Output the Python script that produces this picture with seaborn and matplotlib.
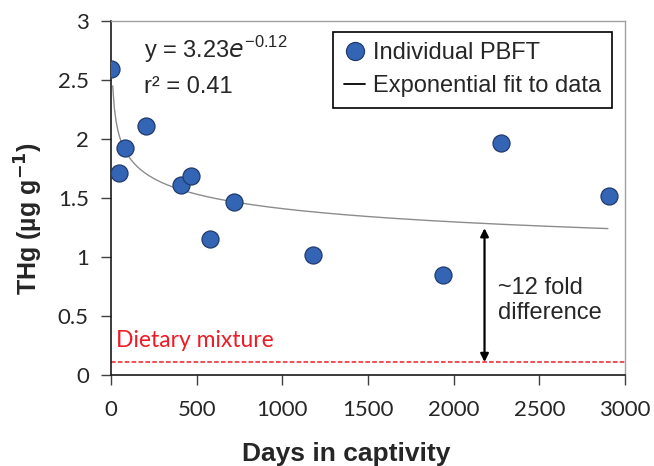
import numpy as np
import pandas as pd
import matplotlib.pyplot as plt
import seaborn as sns
from matplotlib.lines import Line2D

# individual PBFT (days in captivity, THg in ug/g)
days = [0, 47, 82, 204, 409, 467, 578, 718, 1179, 1938, 2277, 2907]
thg = [2.59, 1.71, 1.92, 2.11, 1.61, 1.69, 1.15, 1.47, 1.02, 0.85, 1.97, 1.52]

# fit parameters as printed on the chart (y = a * x^b)
fit_a = 3.23
fit_b = -0.12
fit_start, fit_end = 10, 2900

diet_level = 0.11
arrow_x = 2180
x_ticks = [0, 500, 1000, 1500, 2000, 2500, 3000]
y_ticks = [0, 0.5, 1, 1.5, 2, 2.5, 3]

sns.set_theme(style="white")
plt.rcParams["font.family"] = ["Liberation Sans", "DejaVu Sans"]

df = pd.DataFrame({"days": days, "thg": thg})
fit_x = np.linspace(fit_start, fit_end, 300)
fit_df = pd.DataFrame({"days": fit_x, "thg": fit_a * fit_x ** fit_b})

point_color = "#3465b5"
point_edge = "#1f3a6b"

fig = plt.figure(figsize=(6.54, 4.66), dpi=100)
ax = fig.add_axes([0.1697, 0.1953, 0.786, 0.7596])

sns.lineplot(data=fit_df, x="days", y="thg", color="#8c8c8c", linewidth=1.0,
             ax=ax, legend=False, zorder=2)
sns.scatterplot(data=df, x="days", y="thg", s=150, color=point_color,
                edgecolor=point_edge, linewidth=0.9, ax=ax, legend=False,
                zorder=3)

# dietary mixture line
ax.axhline(diet_level, color="#ee1c25", linestyle="--", linewidth=1.1,
           dashes=(3, 1.5), zorder=1)
ax.text(30, diet_level + 0.09, "Dietary mixture", color="#ee1c25",
        fontsize=16.5, fontfamily="Lato", va="bottom", ha="left")

# fold difference arrow
arrow_top = fit_a * arrow_x ** fit_b - 0.04
ax.annotate("", xy=(arrow_x, arrow_top), xytext=(arrow_x, diet_level),
            arrowprops=dict(arrowstyle="<|-|>", color="black", lw=1.6,
                            mutation_scale=12, shrinkA=0, shrinkB=0))
ax.text(arrow_x + 80, 0.63, "~12 fold\ndifference", fontsize=17,
        va="center", ha="left", linespacing=1.2)

# equation
ax.text(190, 2.76, r"y = 3.23$e^{\mathregular{-0.12}}$", fontsize=17,
        va="center", ha="left")
ax.text(190, 2.44, "r² = 0.41", fontsize=17, va="center", ha="left")

ax.set_xlim(0, 3000)
ax.set_ylim(0, 3)
ax.set_xticks(x_ticks)
ax.set_yticks(y_ticks)
ax.set_xticklabels([str(t) for t in x_ticks], fontfamily="Lato", fontsize=16)
ax.set_yticklabels([f"{t:g}" for t in y_ticks], fontfamily="Lato", fontsize=16)
ax.tick_params(axis="both", direction="out", length=7, width=1,
               color="#404040", bottom=True, left=True)
ax.tick_params(axis="x", pad=11)
ax.tick_params(axis="y", pad=9)

for side in ["left", "bottom"]:
    ax.spines[side].set_color("#1a1a1a")
    ax.spines[side].set_linewidth(1.2)
for side in ["top", "right"]:
    ax.spines[side].set_color("#a0a0a0")
    ax.spines[side].set_linewidth(1.0)

ax.set_xlabel("Days in captivity", fontsize=19, fontweight="bold")
ax.set_ylabel(r"THg (µg g$^{\mathbf{-1}}$)", fontsize=18, fontweight="bold")
ax.xaxis.set_label_coords(0.457, -0.19)
ax.yaxis.set_label_coords(-0.128, 0.443)

handles = [
    Line2D([], [], marker="o", linestyle="none", markersize=13,
           markerfacecolor=point_color, markeredgecolor=point_edge,
           markeredgewidth=0.9),
    Line2D([], [], color="black", linewidth=1.3),
]
leg = ax.legend(handles, ["Individual PBFT", "Exponential fit to data"],
                loc="upper right", bbox_to_anchor=(0.975, 0.97), fontsize=17,
                frameon=True, fancybox=False, edgecolor="black", framealpha=1,
                handlelength=0.9, handletextpad=0.35, borderpad=0.45,
                labelspacing=0.45, borderaxespad=0)
leg.get_frame().set_linewidth(1.2)

fig.savefig("out.png", dpi=100)
